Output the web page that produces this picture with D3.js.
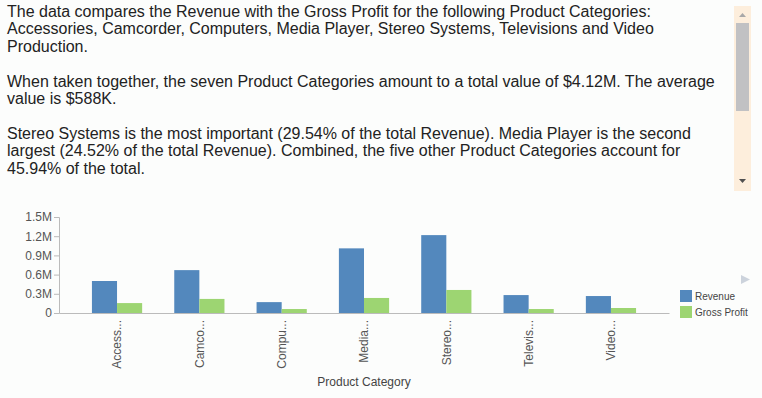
<!DOCTYPE html>
<html>
<head>
<meta charset="utf-8">
<script src="https://cdn.jsdelivr.net/npm/d3@7"></script>
<style>
    body { margin: 0; background: #fcfdfc; font-family: Arial, "Liberation Sans", sans-serif; }
    #summary {
        position: absolute; left: 7px; top: 3px; width: 722px;
        font-size: 16px; line-height: 17.4px; color: #222;
    }
    #summary p { margin: 0 0 17.4px 0; }
    #chart { position: absolute; left: 0; top: 0; }
</style>
</head>
<body>
<div id="summary">
    <p>The data compares the Revenue with the Gross Profit for the following Product Categories: Accessories, Camcorder, Computers, Media Player, Stereo Systems, Televisions and Video Production.</p>
    <p>When taken together, the seven Product Categories amount to a total value of $4.12M. The average value is $588K.</p>
    <p>Stereo Systems is the most important (29.54% of the total Revenue). Media Player is the second largest (24.52% of the total Revenue). Combined, the five other Product Categories account for 45.94% of the total.</p>
</div>
<div id="chart"></div>
<script>
// data (values in millions)
var categories = ["Accessories", "Camcorder", "Computers", "Media Player", "Stereo Systems", "Televisions", "Video Production"];
var tickLabels = ["Access...", "Camco...", "Compu...", "Media...", "Stereo...", "Televis...", "Video..."];
var revenue = [0.50, 0.67, 0.17, 1.01, 1.217, 0.28, 0.265];
var grossProfit = [0.155, 0.22, 0.062, 0.235, 0.36, 0.062, 0.078];
var seriesNames = ["Revenue", "Gross Profit"];
var yTicks = [0, 0.3, 0.6, 0.9, 1.2, 1.5];

var width = 762, height = 398;
var colors = ["#5388bd", "#9dd572"];

var svg = d3.select('#chart')
    .append('svg')
    .attr('width', width)
    .attr('height', height);

// fake scrollbar beside the text
svg.append('rect').attr('x', 734).attr('y', 6).attr('width', 17).attr('height', 185).attr('fill', '#fdeedc');
svg.append('rect').attr('x', 736).attr('y', 23).attr('width', 13).attr('height', 88).attr('fill', '#c1c1c3');
svg.append('path').attr('d', 'M739,17 L746,17 L742.5,13 Z').attr('fill', '#a8a8a8');
svg.append('path').attr('d', 'M739,179 L746,179 L742.5,183 Z').attr('fill', '#505050');

var x0 = d3.scaleBand()
    .domain(categories)
    .range([59, 669])
    .paddingInner(0.39)
    .paddingOuter(0.4);

var x1 = d3.scaleBand()
    .domain(seriesNames)
    .range([0, x0.bandwidth()]);

var y = d3.scaleLinear()
    .domain([0, 1.5])
    .range([313, 217]);

var rows = categories.map(function(c, i) {
    return { cat: c, values: [revenue[i], grossProfit[i]] };
});

// bars
var groups = svg.selectAll('g.group')
    .data(rows)
    .enter().append('g')
    .attr('class', 'group')
    .attr('transform', function(d) { return 'translate(' + x0(d.cat) + ',0)'; });

groups.selectAll('rect')
    .data(function(d) { return d.values.map(function(v, i) { return { name: seriesNames[i], v: v, i: i }; }); })
    .enter().append('rect')
    .attr('x', function(d) { return x1(d.name); })
    .attr('y', function(d) { return y(d.v); })
    .attr('width', x1.bandwidth())
    .attr('height', function(d) { return y(0) - y(d.v); })
    .attr('fill', function(d) { return colors[d.i]; });

// y axis
var yAxis = svg.append('g')
    .attr('transform', 'translate(59,0)')
    .call(d3.axisLeft(y).tickValues(yTicks).tickSize(5).tickPadding(2)
        .tickFormat(function(d) { return d === 0 ? '0' : d3.format('.1f')(d) + 'M'; }));
yAxis.select('.domain').attr('stroke', '#bbb');
yAxis.selectAll('line').attr('stroke', '#bbb');
yAxis.selectAll('text')
    .attr('fill', '#555')
    .style('font-family', 'Arial, "Liberation Sans", sans-serif')
    .style('font-size', '12px');

// x axis
var xAxis = svg.append('g')
    .attr('transform', 'translate(0,313)')
    .call(d3.axisBottom(x0).tickSize(0).tickSizeOuter(0)
        .tickFormat(function(d, i) { return tickLabels[i]; }));
xAxis.select('.domain').attr('stroke', '#bbb');
xAxis.selectAll('text')
    .attr('fill', '#555')
    .style('font-family', 'Arial, "Liberation Sans", sans-serif')
    .style('font-size', '12px')
    .attr('text-anchor', 'end')
    .attr('transform', 'rotate(-90)')
    .attr('x', -7)
    .attr('y', 0)
    .attr('dy', '0.35em');

svg.append('text')
    .attr('x', 364)
    .attr('y', 386)
    .attr('text-anchor', 'middle')
    .attr('fill', '#444')
    .style('font-family', 'Arial, "Liberation Sans", sans-serif')
    .style('font-size', '12px')
    .text('Product Category');

// legend
var legend = svg.selectAll('g.legend')
    .data(seriesNames)
    .enter().append('g')
    .attr('class', 'legend')
    .attr('transform', function(d, i) { return 'translate(680,' + (290 + i * 16) + ')'; });

legend.append('rect')
    .attr('width', 12)
    .attr('height', 12)
    .attr('fill', function(d, i) { return colors[i]; });

legend.append('text')
    .attr('x', 15)
    .attr('y', 10)
    .attr('fill', '#444')
    .style('font-family', 'Arial, "Liberation Sans", sans-serif')
    .style('font-size', '10px')
    .text(function(d) { return d; });

svg.append('path')
    .attr('d', 'M741,275 L750,279.5 L741,284 Z')
    .attr('fill', '#ccd3dc');
</script>
</body>
</html>
